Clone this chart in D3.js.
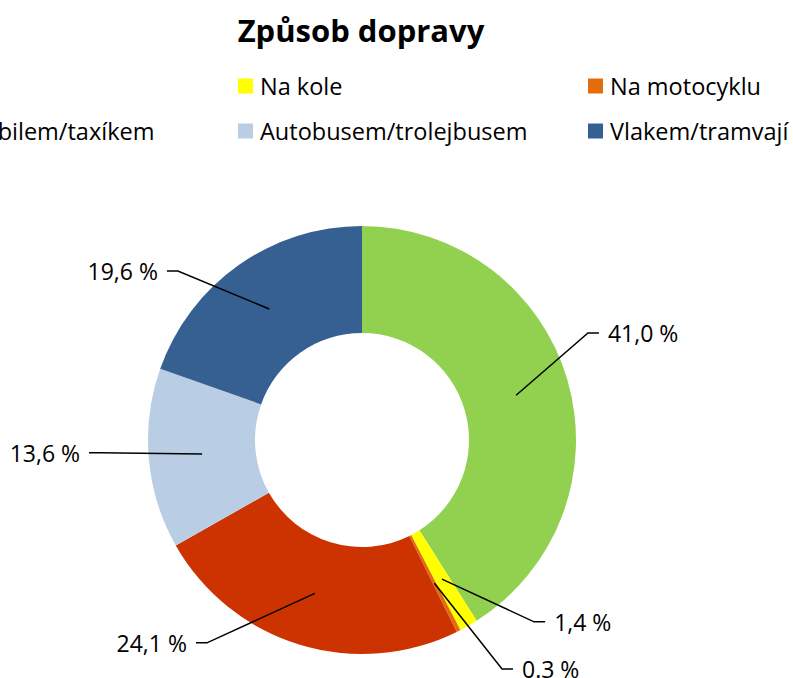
<!DOCTYPE html>
<html>
<head>
<meta charset="utf-8">
<script src="https://cdn.jsdelivr.net/npm/d3@7"></script>
<style>
  html, body { margin: 0; padding: 0; background: #fff; }
  svg { display: block; }
  text { font-family: "Open Sans", "Noto Sans", sans-serif; fill: #000; }
</style>
</head>
<body>
<svg id="chart" width="793" height="678"></svg>
<script>
// ---- data ----
const title = "Způsob dopravy";
const categories = ["Pěšky", "Na kole", "Na motocyklu", "Automobilem/taxíkem", "Autobusem/trolejbusem", "Vlakem/tramvají"];
const values = [41.0, 1.4, 0.3, 24.1, 13.6, 19.6];
const valueLabels = ["41,0 %", "1,4 %", "0.3 %", "24,1 %", "13,6 %", "19,6 %"];
const colors = ["#92D050", "#FFFF00", "#E46C0A", "#CC3300", "#B9CDE5", "#376092"];

// ---- layout (label anchors: angle in degrees from top, radius as multiple of outer radius) ----
const labelAngles = [65.7, 134.8, 146.6, 219.3, 267.3, 310.9];
const labelRadii = [1.215, 1.206, 1.282, 1.225, 1.277, 1.206];

const W = 793, H = 678;
const cx = 362, cy = 440, outerR = 214, innerR = 107;

const svg = d3.select("#chart");

// title
svg.append("text")
  .attr("x", 361).attr("y", 30)
  .attr("text-anchor", "middle").attr("dominant-baseline", "central")
  .style("font-size", "31px").style("font-weight", "bold")
  .text(title);

// legend
const legendCols = 3, colW = 350, legendX0 = -112, rowY0 = 86, rowH = 45, sw = 15;
const legend = svg.append("g");
categories.forEach((c, i) => {
  const col = i % legendCols, row = Math.floor(i / legendCols);
  const x = legendX0 + col * colW, y = rowY0 + row * rowH;
  legend.append("rect").attr("x", x).attr("y", y - sw / 2).attr("width", sw).attr("height", sw).attr("fill", colors[i]);
  legend.append("text").attr("x", x + 22).attr("y", y)
    .attr("dominant-baseline", "central").style("font-size", "23.5px").text(c);
});

// donut
const pie = d3.pie().sort(null).value(d => d).startAngle(0).endAngle(2 * Math.PI);
const arcs = pie(values);
const arc = d3.arc().innerRadius(innerR).outerRadius(outerR);
const g = svg.append("g").attr("transform", `translate(${cx},${cy})`);
g.selectAll("path.slice").data(arcs).enter().append("path")
  .attr("class", "slice")
  .attr("d", arc)
  .attr("fill", (d, i) => colors[i]);

// labels + leader lines
const polar = (deg, r) => {
  const a = deg * Math.PI / 180;
  return [Math.sin(a) * r, -Math.cos(a) * r];
};
arcs.forEach((d, i) => {
  const [ix, iy] = arc.centroid(d);
  const [ax, ay] = polar(labelAngles[i], labelRadii[i] * outerR);
  const right = ax > 0;
  const ex = ax + (right ? -11 : 11);
  g.append("polyline")
    .attr("points", [[ix, iy], [ex, ay], [ax, ay]].map(p => p.join(",")).join(" "))
    .attr("fill", "none").attr("stroke", "#000").attr("stroke-width", 1.5);
  g.append("text")
    .attr("x", ax + (right ? 9 : -9)).attr("y", ay)
    .attr("text-anchor", right ? "start" : "end")
    .attr("dominant-baseline", "central")
    .style("font-size", "23px")
    .text(valueLabels[i]);
});
</script>
</body>
</html>
